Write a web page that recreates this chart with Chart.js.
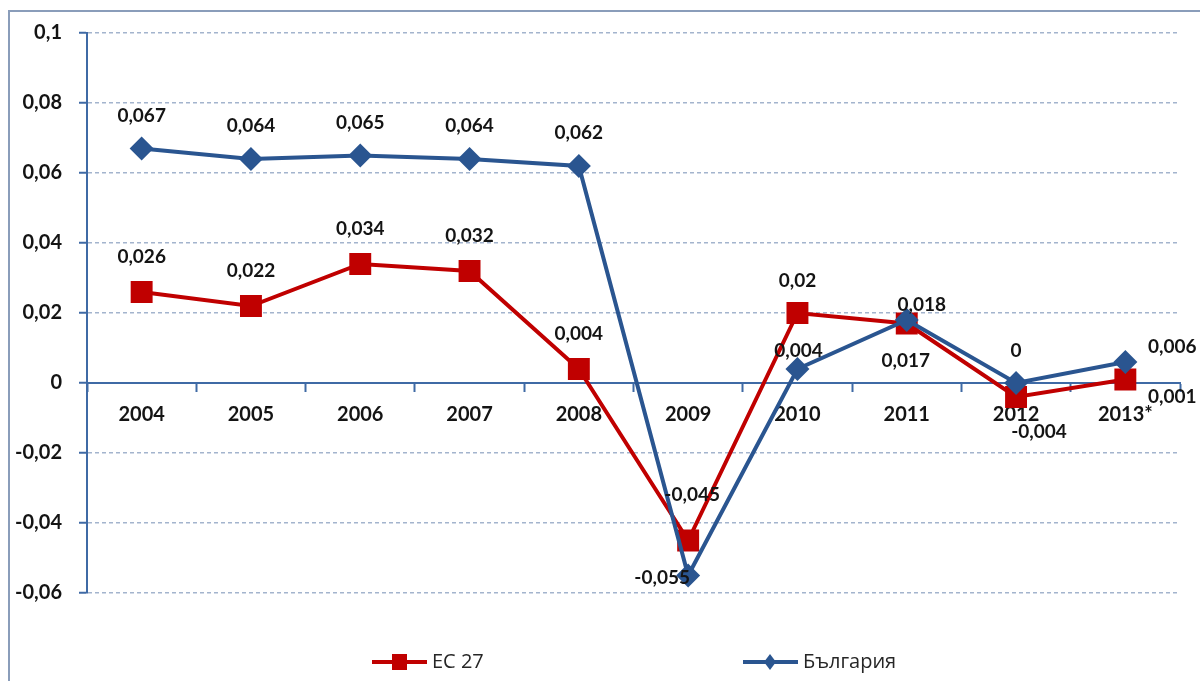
<!DOCTYPE html>
<html>
<head>
<meta charset="utf-8">
<title>ЕС 27 и България</title>
<script src="https://cdn.jsdelivr.net/npm/chart.js@4.4.1/dist/chart.umd.min.js"></script>
<style>
  html, body { margin: 0; padding: 0; background: #fff; }
  #wrap { position: relative; width: 1200px; height: 681px; overflow: hidden; }
  #frame {
    position: absolute; left: 8px; top: 10px; right: -10px; bottom: -10px;
    border-top: 2px solid #8a9dba; border-left: 2px solid #8a9dba;
  }
  canvas { position: absolute; left: 0; top: 0; }
</style>
</head>
<body>
<div id="wrap">
  <div id="frame"></div>
  <canvas id="chart" width="1200" height="681"></canvas>
</div>
<script>
"use strict";

const years = ["2004", "2005", "2006", "2007", "2008", "2009", "2010", "2011", "2012", "2013*"];
const euValues = [0.026, 0.022, 0.034, 0.032, 0.004, -0.045, 0.02, 0.017, -0.004, 0.001];
const bgValues = [0.067, 0.064, 0.065, 0.064, 0.062, -0.055, 0.004, 0.018, 0, 0.006];
const yTickLabels = ["-0,06", "-0,04", "-0,02", "0", "0,02", "0,04", "0,06", "0,08", "0,1"];

// where each value label sits relative to its point (dx, dy)
const euLabelOffsets = [[0, -35], [0, -35], [0, -35], [0, -35], [0, -35], [4, -46], [0, -32], [-1, 37], [23, 35], [47, 17]];
const bgLabelOffsets = [[0, -33], [0, -33], [0, -33], [0, -33], [0, -33], [-26, 2], [1, -18], [15, -15], [0, -32], [47, -15]];

const red = "#c00000";
const blue = "#2a5590";
const axisColor = "#3f6aa5";
const gridColor = "#a3b4cd";
const numberFont = "Lato, 'Open Sans', sans-serif";

function toComma(v) {
  return String(v).replace(".", ",");
}

const valueLabels = {
  id: "valueLabels",
  afterDatasetsDraw(chart) {
    const ctx = chart.ctx;
    ctx.save();
    ctx.font = "bold 19px " + numberFont;
    ctx.fillStyle = "#141414";
    ctx.textAlign = "center";
    ctx.textBaseline = "middle";
    chart.data.datasets.forEach((ds, i) => {
      const meta = chart.getDatasetMeta(i);
      meta.data.forEach((pt, j) => {
        const off = ds.labelOffsets[j];
        ctx.fillText(toComma(ds.data[j]), pt.x + off[0], pt.y + off[1]);
      });
    });
    ctx.restore();
  }
};

// legend with a line through the marker, like the original
const lineLegend = {
  id: "lineLegend",
  afterDraw(chart) {
    const ctx = chart.ctx;
    const y = 662;
    const items = [
      { ds: chart.data.datasets[1], x: 372 },
      { ds: chart.data.datasets[0], x: 743 }
    ];
    ctx.save();
    items.forEach(item => {
      const ds = item.ds;
      ctx.strokeStyle = ds.borderColor;
      ctx.lineWidth = 4;
      ctx.beginPath();
      ctx.moveTo(item.x, y);
      ctx.lineTo(item.x + 55, y);
      ctx.stroke();
      ctx.fillStyle = ds.borderColor;
      const cx = item.x + 27;
      if (ds.pointStyle === "rect") {
        ctx.fillRect(cx - 7, y - 8, 15, 16);
      } else {
        ctx.beginPath();
        ctx.moveTo(cx, y - 8);
        ctx.lineTo(cx + 6, y);
        ctx.lineTo(cx, y + 8);
        ctx.lineTo(cx - 6, y);
        ctx.closePath();
        ctx.fill();
      }
      ctx.fillStyle = "#262626";
      ctx.font = "20px 'Open Sans', sans-serif";
      ctx.textAlign = "left";
      ctx.textBaseline = "middle";
      ctx.fillText(ds.label, item.x + 60, y);
    });
    ctx.restore();
  }
};

const data = {
  labels: years,
  datasets: [
    {
      label: "България",
      data: bgValues,
      labelOffsets: bgLabelOffsets,
      borderColor: blue,
      backgroundColor: blue,
      borderWidth: 4,
      pointStyle: "rectRot",
      pointRadius: 12,
      pointHoverRadius: 12,
      pointBorderWidth: 0,
      tension: 0,
      order: 0
    },
    {
      label: "ЕС 27",
      data: euValues,
      labelOffsets: euLabelOffsets,
      borderColor: red,
      backgroundColor: red,
      borderWidth: 4,
      pointStyle: "rect",
      pointRadius: 15.5,
      pointHoverRadius: 15.5,
      pointBorderWidth: 0,
      tension: 0,
      order: 1
    }
  ]
};

const config = {
  type: "line",
  data: data,
  options: {
    responsive: false,
    animation: false,
    layout: { padding: { top: 33, right: 20, bottom: 88, left: 0 } },
    plugins: {
      legend: { display: false },
      tooltip: { enabled: false }
    },
    scales: {
      x: {
        type: "category",
        position: { y: 0 },
        offset: true,
        grid: {
          offset: true,
          drawOnChartArea: false,
          tickLength: 8,
          tickColor: axisColor,
          tickWidth: 2
        },
        border: { color: axisColor, width: 2 },
        ticks: {
          autoSkip: false,
          maxRotation: 0,
          padding: 12,
          color: "#141414",
          font: { family: numberFont, size: 20, weight: "bold" }
        }
      },
      y: {
        min: -0.06,
        max: 0.1,
        afterFit(scale) {
          scale.width = 87;
        },
        grid: {
          color: gridColor,
          lineWidth: 1.5,
          tickLength: 8,
          tickColor: axisColor,
          tickWidth: 2
        },
        border: { color: axisColor, width: 2, dash: [4, 3] },
        ticks: {
          stepSize: 0.02,
          padding: 17,
          color: "#141414",
          font: { family: numberFont, size: 20, weight: "bold" },
          callback: (value, index) => yTickLabels[index]
        }
      }
    }
  },
  plugins: [valueLabels, lineLegend]
};

const myChart = new Chart(document.getElementById("chart"), config);
</script>
</body>
</html>
